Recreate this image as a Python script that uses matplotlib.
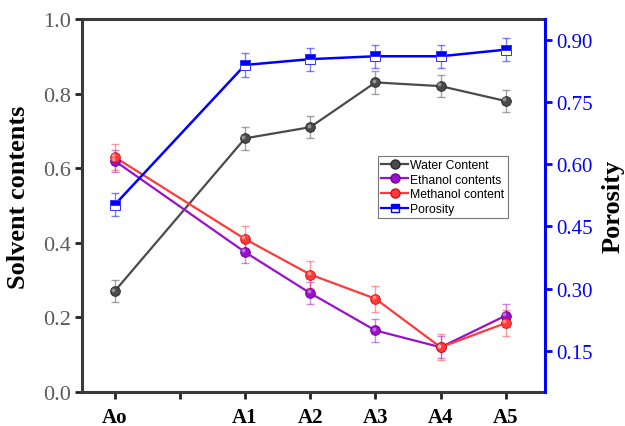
import matplotlib
matplotlib.use("Agg")
import matplotlib.pyplot as plt
from matplotlib.lines import Line2D
from matplotlib.transforms import offset_copy

# sample names along x (second slot is left empty)
labels = ['Ao', '', 'A1', 'A2', 'A3', 'A4', 'A5']
x_pos = [0, 2, 3, 4, 5, 6]

water = [0.27, 0.68, 0.71, 0.83, 0.82, 0.78]
water_err = [0.03, 0.03, 0.03, 0.03, 0.03, 0.03]
ethanol = [0.62, 0.375, 0.265, 0.165, 0.12, 0.205]
ethanol_err = [0.03, 0.03, 0.03, 0.03, 0.03, 0.03]
methanol = [0.63, 0.41, 0.315, 0.25, 0.12, 0.185]
methanol_err = [0.035, 0.035, 0.035, 0.035, 0.035, 0.035]
porosity = [0.502, 0.84, 0.854, 0.861, 0.861, 0.877]
porosity_err = [0.028, 0.028, 0.028, 0.028, 0.028, 0.028]

serif = 'Liberation Serif'

fig = plt.figure(figsize=(6.25, 4.27), dpi=100)
ax1 = fig.add_axes([82/625, 1 - 393/427, (545-82)/625, (393-20)/427])
ax2 = ax1.twinx()


def sphere_series(ax, y, err, color, edge, label):
    ax.errorbar(x_pos, y, yerr=err, fmt='none', ecolor=color, alpha=0.5,
                elinewidth=1.0, capsize=3, capthick=1.0, zorder=2)
    ax.plot(x_pos, y, '-', color=color, lw=1.6, zorder=3)
    ax.plot(x_pos, y, 'o', ms=7, mfc=color, mec=edge, mew=0.6, zorder=4)
    # small highlight up and to the left gives a shaded ball look
    shine = offset_copy(ax.transData, fig=fig, x=-1.2, y=1.2, units='points')
    ax.plot(x_pos, y, 'o', ms=2.8, mfc='white', mec='none', alpha=0.4,
            zorder=5, transform=shine)
    return Line2D([], [], color=color, lw=1.6, marker='o', ms=6.5,
                  mfc=color, mec=edge, label=label)


h1 = sphere_series(ax1, water, water_err, '#4a4a4a', '#2a2a2a', 'Water Content')
h2 = sphere_series(ax1, ethanol, ethanol_err, '#9a10d0', '#6a0090', 'Ethanol contents')
h3 = sphere_series(ax1, methanol, methanol_err, '#ff3a3a', '#d01010', 'Methanol content')

ax2.errorbar(x_pos, porosity, yerr=porosity_err, fmt='none', ecolor='#0000ff',
             alpha=0.5, elinewidth=1.0, capsize=3, capthick=1.0, zorder=2)
ax2.plot(x_pos, porosity, '-', color='#0000ff', lw=1.8, zorder=3)
ax2.plot(x_pos, porosity, 's', ms=6.5, color='#0000ff', fillstyle='top',
         mfc='#0000ff', mfcalt='white', mec='#3030ff', mew=0.7, zorder=4)
h4 = Line2D([], [], color='#0000ff', lw=1.6, marker='s', ms=6,
            fillstyle='top', mfc='#0000ff', mfcalt='white', mec='#0000ff',
            label='Porosity')

ax1.set_xlim(-0.5, 6.6)
ax1.set_ylim(0, 1.0)
ax2.set_ylim(0.05, 0.951)

ax1.set_xticks(range(len(labels)))
ax1.set_xticklabels(labels, fontfamily=serif, fontweight='bold', fontsize=15)
ax1.set_yticks([0.0, 0.2, 0.4, 0.6, 0.8, 1.0])
ax1.set_yticklabels(['0.0', '0.2', '0.4', '0.6', '0.8', '1.0'],
                    fontfamily=serif, fontsize=16, color='#5a5a5a')
ax2.set_yticks([0.15, 0.30, 0.45, 0.60, 0.75, 0.90])
ax2.set_yticklabels(['0.15', '0.30', '0.45', '0.60', '0.75', '0.90'],
                    fontfamily=serif, fontsize=15, color='#0000ff')

ax1.set_ylabel('Solvent contents', fontfamily=serif, fontweight='bold',
               fontsize=19, labelpad=4)
ax1.yaxis.set_label_coords(-0.112, 0.525)
ax2.set_ylabel('Porosity', fontfamily=serif, fontweight='bold', fontsize=19,
               labelpad=6)

for side in ['left', 'top', 'bottom']:
    ax1.spines[side].set_linewidth(2.2)
    ax1.spines[side].set_color('#3a3a3a')
    ax2.spines[side].set_visible(False)
ax2.spines['right'].set_color('#0000ff')
ax2.spines['right'].set_linewidth(2.2)
ax1.spines['right'].set_visible(False)

ax1.tick_params(axis='both', direction='out', length=5, width=2, color='#222222')
ax1.tick_params(axis='x', pad=6)
ax1.tick_params(axis='y', pad=3)
ax2.tick_params(axis='y', direction='out', length=5, width=2, color='#0000ff',
                pad=3)

leg = ax1.legend(handles=[h1, h2, h3, h4], loc='upper left',
                 bbox_to_anchor=((378-82)/463, (393-157)/373),
                 prop={'family': 'Liberation Sans', 'size': 8.8},
                 frameon=True, fancybox=False, edgecolor='#555555',
                 handlelength=2.2, handletextpad=0.2, borderpad=0.25,
                 labelspacing=0.22, borderaxespad=0)
leg.get_frame().set_linewidth(0.8)
leg.set_zorder(10)

fig.savefig('out.png', dpi=100)
